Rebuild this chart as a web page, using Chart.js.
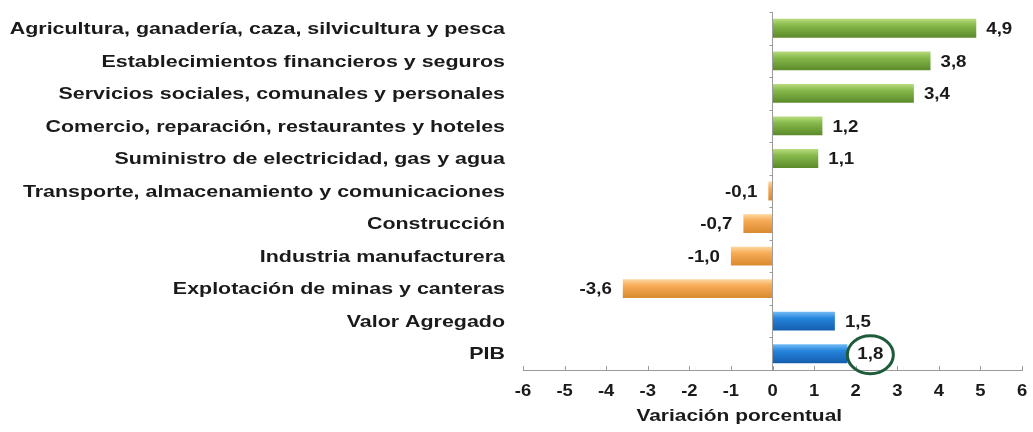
<!DOCTYPE html>
<html>
<head>
<meta charset="utf-8">
<script src="https://cdn.jsdelivr.net/npm/chart.js@4/dist/chart.umd.min.js"></script>
<style>
  html, body { margin: 0; padding: 0; background: #fff; }
  #wrap { width: 1033px; height: 432px; }
</style>
</head>
<body>
<div id="wrap"><canvas id="sectorChart" width="1033" height="432"></canvas></div>
<script>
const categories = [
    'Agricultura, ganadería, caza, silvicultura y pesca',
    'Establecimientos financieros y seguros',
    'Servicios sociales, comunales y personales',
    'Comercio, reparación, restaurantes y hoteles',
    'Suministro de electricidad, gas y agua',
    'Transporte, almacenamiento y comunicaciones',
    'Construcción',
    'Industria manufacturera',
    'Explotación de minas y canteras',
    'Valor Agregado',
    'PIB'
];
const values = [4.9, 3.8, 3.4, 1.2, 1.1, -0.1, -0.7, -1.0, -3.6, 1.5, 1.8];
// 'up' = sector creció, 'down' = cayó, 'total' = agregados
const groups = ['up', 'up', 'up', 'up', 'up', 'down', 'down', 'down', 'down', 'total', 'total'];
const xTicks = [-6, -5, -4, -3, -2, -1, 0, 1, 2, 3, 4, 5, 6];
const highlighted = 'PIB';
const axisTitle = 'Variación porcentual';

const palette = {
    up: ['#b9dc7e', '#86b84a', '#5a8a2a'],
    down: ['#fdd7a0', '#f6ab55', '#d9892e'],
    total: ['#72bcf6', '#2584dc', '#145eae']
};

const fmt = v => v.toFixed(1).replace('.', ',');
const FONT = 'Arial, "Liberation Sans", sans-serif';
const TEXT = '#1a1a1a';
const AXIS = '#9a9a9a';
const BAR_PCT = 0.58;

function barFill(context) {
    const chart = context.chart;
    const cols = palette[groups[context.dataIndex]];
    const ys = chart.scales && chart.scales.y;
    const area = chart.chartArea;
    if (!ys || !area) return cols[1];
    const cy = ys.getPixelForValue(context.dataIndex);
    const h = (area.bottom - area.top) / categories.length * BAR_PCT;
    if (!isFinite(cy) || !isFinite(h)) return cols[1];
    const g = chart.ctx.createLinearGradient(0, cy - h / 2, 0, cy + h / 2);
    g.addColorStop(0, cols[0]);
    g.addColorStop(0.35, cols[1]);
    g.addColorStop(1, cols[2]);
    return g;
}

// texto algo ensanchado, como en el original
function wideText(ctx, str, x, y, align, sx) {
    ctx.save();
    ctx.translate(x, y);
    ctx.scale(sx, 1);
    ctx.textAlign = align;
    ctx.fillText(str, 0, 0);
    ctx.restore();
}

const extras = {
    id: 'extras',
    afterDatasetsDraw(chart) {
        const ctx = chart.ctx;
        const xs = chart.scales.x;
        const ys = chart.scales.y;
        const area = chart.chartArea;
        const zero = xs.getPixelForValue(0);
        ctx.save();
        ctx.strokeStyle = AXIS;
        ctx.lineWidth = 1;
        ctx.beginPath();
        // eje vertical en cero con marcas hacia la izquierda
        ctx.moveTo(zero, area.top);
        ctx.lineTo(zero, area.bottom);
        const step = (area.bottom - area.top) / categories.length;
        for (let i = 0; i <= categories.length; i++) {
            const y = Math.round(area.top + i * step) + 0.5;
            ctx.moveTo(zero - 3, y);
            ctx.lineTo(zero, y);
        }
        // marcas del eje x hacia arriba
        xTicks.forEach(v => {
            const x = Math.round(xs.getPixelForValue(v)) + 0.5;
            ctx.moveTo(x, area.bottom - 4);
            ctx.lineTo(x, area.bottom);
        });
        ctx.stroke();

        ctx.fillStyle = TEXT;
        ctx.textBaseline = 'middle';

        // categorías
        ctx.font = 'bold 17px ' + FONT;
        categories.forEach((c, i) => {
            wideText(ctx, c, area.left - 18, ys.getPixelForValue(i) + 1, 'right', 1.26);
        });

        // números del eje x
        ctx.font = 'bold 16px ' + FONT;
        xTicks.forEach(v => {
            wideText(ctx, String(v), xs.getPixelForValue(v), area.bottom + 22, 'center', 1.15);
        });

        // etiquetas de valor
        const meta = chart.getDatasetMeta(0);
        ctx.font = 'bold 17px ' + FONT;
        meta.data.forEach((bar, i) => {
            const v = values[i];
            if (v >= 0) {
                wideText(ctx, fmt(v), bar.x + 10, bar.y + 1, 'left', 1.1);
            } else {
                wideText(ctx, fmt(v), bar.x - 11, bar.y + 1, 'right', 1.1);
            }
        });

        // círculo alrededor del PIB
        const b = meta.data[categories.indexOf(highlighted)];
        ctx.strokeStyle = '#1d5b3b';
        ctx.lineWidth = 3;
        ctx.beginPath();
        ctx.ellipse(b.x + 23, b.y + 1, 23, 19, 0, 0, Math.PI * 2);
        ctx.stroke();

        // título del eje x
        ctx.font = 'bold 17px ' + FONT;
        wideText(ctx, axisTitle, xs.getPixelForValue(-0.8), 416, 'center', 1.23);
        ctx.restore();
    }
};

const ctx = document.getElementById('sectorChart').getContext('2d');
new Chart(ctx, {
    type: 'bar',
    data: {
        labels: categories,
        datasets: [{
            data: values,
            backgroundColor: barFill,
            borderWidth: 0,
            categoryPercentage: 1,
            barPercentage: BAR_PCT
        }]
    },
    options: {
        indexAxis: 'y',
        responsive: false,
        animation: false,
        layout: { padding: { top: 12, right: 11, left: 0, bottom: 0 } },
        plugins: {
            legend: { display: false },
            tooltip: { enabled: false }
        },
        scales: {
            x: {
                min: -6,
                max: 6,
                afterBuildTicks: scale => {
                    scale.ticks = xTicks.map(v => ({ value: v }));
                },
                afterFit: scale => { scale.height = 62; },
                grid: { display: false },
                border: { color: AXIS },
                ticks: { display: false }
            },
            y: {
                afterFit: scale => { scale.width = 523; },
                grid: { display: false },
                border: { display: false },
                ticks: { display: false }
            }
        }
    },
    plugins: [extras]
});
</script>
</body>
</html>
